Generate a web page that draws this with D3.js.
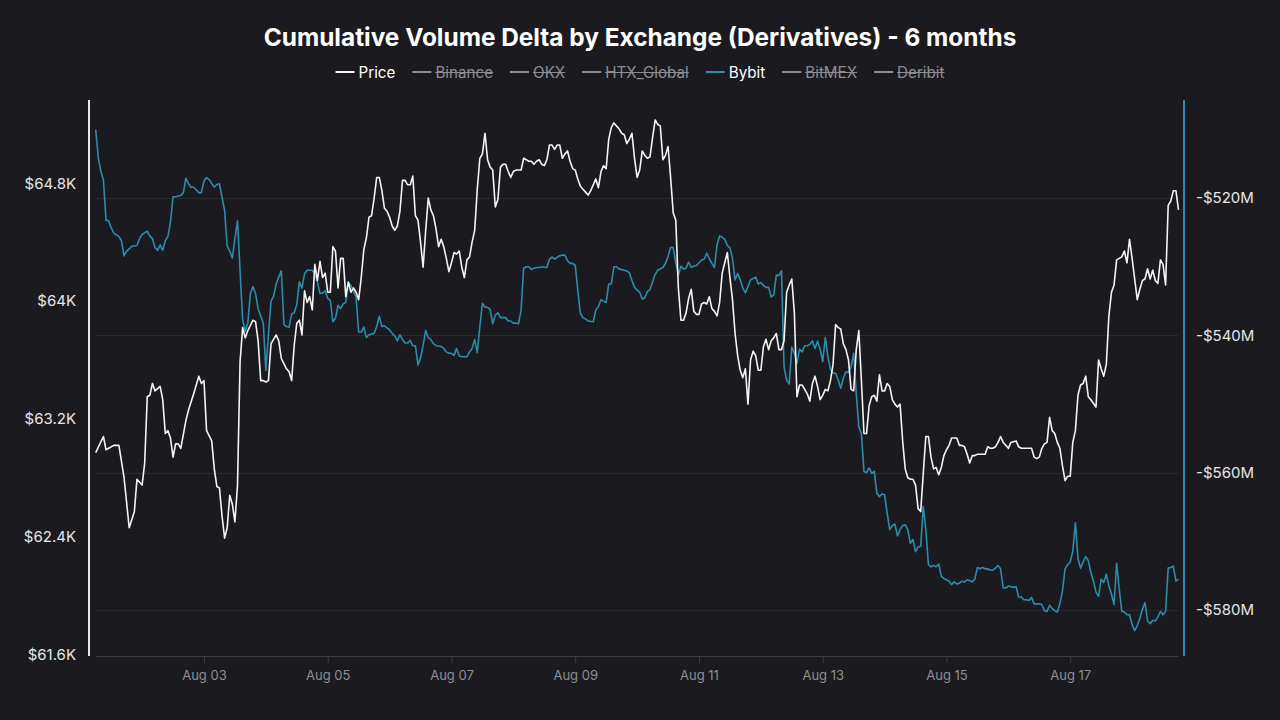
<!DOCTYPE html>
<html>
<head>
<meta charset="utf-8">
<script src="https://cdn.jsdelivr.net/npm/d3@7"></script>
<style>
	html, body { margin: 0; padding: 0; background: #1b1b1f; }
	#app { width: 1280px; height: 720px; }
	text { font-family: Inter, 'Noto Sans', sans-serif; }
</style>
</head>
<body>
<div id="app"></div>
<script>
// hours counted from 2024-08-01 06:00 UTC
const startTime = Date.UTC(2024, 7, 1, 6);

const title = 'Cumulative Volume Delta by Exchange (Derivatives) - 6 months';

const legendNames = ['Price', 'Binance', 'OKX', 'HTX_Global', 'Bybit', 'BitMEX', 'Deribit'];
const legendHidden = [false, true, true, true, false, true, true];

const dateTicks = ['2024-08-03', '2024-08-05', '2024-08-07', '2024-08-09', '2024-08-11', '2024-08-13', '2024-08-15', '2024-08-17'];
const priceTicks = [64800, 64000, 63200, 62400, 61600];
const cvdTicks = [-520, -540, -560, -580];
const priceExtent = [61589, 65366];
const cvdExtent = [-586.7, -505.7];

// [hour, USD]
const price = [[0,62970],[3,63080],[4,62990],[7,63020],[9,63020],[11,62800],[13,62460],[15,62570],[16,62790],[18,62750],[19,62900],[20,63350],[21,63360],[22,63440],[23,63390],[25,63420],[26,63330],[27,63100],[28,63120],[29,63070],[30,62940],[31,63030],[32,63030],[33,63000],[35,63190],[36,63260],[38,63370],[40,63490],[41,63440],[42,63460],[43,63120],[45,63050],[46,62860],[47,62740],[48,62730],[49,62540],[50,62390],[51,62460],[52,62680],[53,62620],[54,62500],[55,62750],[56,63590],[57,63820],[58,63750],[59,63800],[61,63870],[62,63860],[63,63730],[64,63460],[65,63460],[66,63450],[67,63460],[68,63710],[70,63770],[71,63730],[72,63610],[74,63540],[75,63520],[76,63460],[77,63700],[78,63850],[79,63870],
	[80,63770],[81,64070],[82,63990],[83,64030],[84,63940],[85,64250],[86,64140],[87,64270],[88,64160],[89,64190],[90,64060],[91,64060],[92,64370],[93,64340],[94,64090],[95,64290],[96,64290],[97,64030],[98,64130],[99,64060],[100,64090],[101,64060],[102,64010],[103,64160],[104,64350],[105,64430],[106,64570],[107,64580],[108,64700],[109,64840],[110,64840],[111,64750],[112,64630],[113,64610],[114,64570],[115,64510],[116,64480],[117,64510],[118,64610],[119,64820],[120,64820],[121,64790],[122,64790],[123,64850],[124,64580],[125,64550],[126,64400],[127,64230],[128,64480],[129,64700],[130,64620],[131,64580],[132,64490],[133,64370],[134,64420],[135,64370],[136,64290],[137,64200],[138,64260],[139,64330],[140,64320],[141,64340],[142,64230],[143,64160],[144,64280],[145,64300],[146,64400],[147,64480],[148,64760],[149,64970],[150,65000],[151,65140],[152,64960],[153,64910],[154,64890],[155,64640],[156,64690],[157,64910],[158,64930],[159,64930],[160,64880],[161,64840],[162,64880],[163,64890],[165,64890],[166,64970],[167,64960],[168,64950],[169,64950],[170,64930],[171,64950],[172,64960],[173,64930],[174,64920],[175,64960],[176,65060],[177,65060],[178,65030],[179,65060],[180,65060],[181,64970],[182,65000],[183,65020],[184,64950],[185,64900],[186,64890],[187,64830],[188,64780],[189,64760],[190,64740],[191,64720],[192,64750],[193,64790],[194,64830],[195,64770],[196,64880],[197,64920],[198,64900],[199,65100],[200,65180],
	[201,65210],[202,65190],[203,65170],[204,65140],[205,65130],[206,65070],[207,65100],[208,65140],[209,64970],[210,64840],[211,64890],[212,65020],[213,64990],[214,64970],[215,64980],[216,65110],[217,65230],[218,65200],[219,65190],[220,64960],[221,64990],[222,65050],[223,64840],[224,64600],[225,64550],[226,64090],[227,63870],[228,63870],[229,63920],[230,64020],[231,64080],[232,63930],[233,63910],[234,63910],[235,63980],[236,63990],[237,63980],[238,64030],[239,63950],[240,63930],[241,63900],[242,63990],[243,64190],[244,64260],[245,64330],[246,64160],[247,64010],[248,63780],[249,63630],[250,63530],[251,63480],[252,63540],[253,63300],[254,63600],[255,63660],[256,63630],[257,63530],[258,63530],[259,63690],[260,63740],[261,63670],[262,63730],[263,63750],[264,63780],[265,63670],[266,63670],[267,63730],[268,64060],[269,64110],[270,64150],[271,63920],[272,63350],[273,63430],[274,63430],[275,63400],[276,63370],[277,63320],[278,63440],[279,63490],[280,63420],[281,63330],[282,63360],[283,63400],[284,63390],[285,63460],[286,63570],[287,63840],[288,63820],[289,63810],[290,63710],[291,63670],[292,63600],[293,63400],[294,63390],[295,63670],[296,63800],[297,63460],[298,63100],[299,63100],[300,63290],
	[301,63350],[302,63360],[303,63320],[304,63500],[305,63390],[306,63390],[307,63440],[308,63420],[309,63330],[310,63300],[311,63280],[312,63300],[313,63050],[314,62860],[315,62800],[316,62790],[317,62790],[318,62750],[319,62590],[320,62570],[321,62830],[322,63080],[323,63080],[324,62940],[325,62860],[326,62870],[327,62820],[328,62870],[329,62950],[330,62990],[331,63020],[332,63070],[333,63070],[334,63070],[335,63020],[336,63020],[337,63010],[338,62960],[339,62900],[340,62950],[341,62950],[342,62960],[343,62960],[344,62960],[345,62960],[346,63010],[347,63000],[348,63000],[349,63010],[350,63040],[351,63080],[352,63040],[353,63020],[354,63000],[355,63040],[357,63050],[358,63010],[359,63000],[360,63000],[362,63000],[363,63000],[364,62940],[365,62930],[366,62940],[367,63000],[368,63030],[369,63040],[370,63210],[371,63120],[372,63100],[373,63040],[374,63000],[375,62880],[376,62780],[377,62810],[378,62810],[379,63040],[380,63120],[381,63360],[382,63430],[383,63440],[384,63490],[385,63350],[386,63330],[388,63280],[389,63600],[390,63540],[391,63490],[392,63570],[393,63900],[394,64060],[395,64110],[396,64280],[397,64290],[398,64300],[399,64340],[400,64260],[401,64420],[402,64290],[403,64150],[404,64010],[405,64080],[406,64140],[407,64150],[408,64220],[409,64150],[410,64210],[411,64140],[412,64120],[413,64280],[414,64250],[415,64110],[416,64650],[417,64680],[418,64750],[419,64750],[420,64620]];

// [hour, USD millions]
const bybit = [[0,-510.0],[1,-514.1],[2,-516.1],[3,-517.4],[4,-523.2],[5,-523.3],[6,-524.3],[7,-525.1],[9,-525.6],[10,-526.2],[11,-528.4],[12,-527.7],[13,-527.4],[14,-527.0],[16,-526.9],[17,-525.9],[18,-525.3],[20,-524.8],[21,-525.5],[22,-525.9],[23,-527.2],[24,-527.6],[25,-526.8],[26,-527.6],[27,-526.2],[28,-525.6],[29,-523.5],[30,-519.8],[31,-519.8],[33,-519.6],[34,-519.2],[35,-517.1],[36,-517.9],[37,-518.4],[38,-518.4],[40,-519.2],[41,-519.2],[42,-517.5],[43,-517.0],[44,-517.3],[46,-518.4],[47,-518.0],[48,-517.9],[50,-521.8],[51,-527.0],[52,-527.7],[53,-528.7],[54,-525.9],[55,-523.3],[56,-530.6],[57,-537.7],[58,-539.4],[59,-538.2],[60,-533.9],[61,-532.9],[62,-533.9],[63,-536.1],[64,-537.2],[65,-538.2],[66,-545.1],[67,-539.9],[68,-535.0],[69,-534.3],[70,-532.5],[71,-531.5],[72,-530.6],[73,-538.4],[74,-538.7],[75,-538.8],[76,-536.9],[77,-536.7],[78,-535.5],[79,-532.2],
	[80,-533.1],[81,-531.0],[82,-530.5],[84,-530.5],[85,-531.0],[86,-532.2],[87,-533.9],[88,-533.8],[89,-533.5],[90,-534.6],[91,-534.9],[92,-538.0],[93,-537.5],[94,-535.6],[95,-536.1],[96,-535.4],[97,-535.2],[98,-532.4],[99,-532.7],[100,-533.6],[101,-534.4],[102,-539.5],[103,-539.5],[104,-538.8],[105,-540.3],[106,-539.9],[107,-539.8],[108,-539.7],[109,-538.7],[110,-537.2],[111,-538.7],[112,-538.6],[113,-538.9],[114,-539.2],[115,-539.7],[116,-540.1],[117,-540.8],[118,-539.9],[119,-540.6],[120,-541.1],[121,-541.1],[122,-540.7],[123,-541.5],[124,-541.5],[125,-544.3],[126,-543.3],[127,-541.4],[128,-539.3],[129,-540.3],[130,-540.6],[131,-541.2],[132,-541.5],[134,-541.6],[135,-541.9],[136,-542.4],[137,-542.6],[138,-542.6],[139,-542.9],[140,-541.9],[141,-543.0],[142,-543.1],[144,-543.1],[145,-542.4],[146,-541.9],[147,-540.6],[148,-542.5],[149,-538.7],[150,-535.3],[151,-535.9],[152,-535.9],[153,-536.2],[154,-538.3],[155,-537.0],[156,-536.7],[157,-537.4],[158,-537.4],[159,-537.4],[160,-537.9],[161,-537.9],[162,-538.2],[163,-538.2],[164,-538.3],[165,-536.3],[166,-530.2],[167,-530.0],[168,-530.0],[169,-530.4],[170,-530.2],[171,-530.1],[172,-530.1],[173,-530.0],[175,-530.1],[176,-528.9],[177,-528.6],[178,-528.9],[179,-528.6],[180,-528.4],[181,-528.3],[182,-528.3],[183,-529.1],[184,-529.5],[185,-529.5],[186,-529.8],[187,-533.4],[188,-536.8],[189,-537.4],[190,-537.6],[191,-537.9],[193,-538.0],[194,-536.3],[195,-535.8],[196,-534.8],[197,-535.0],[198,-535.2],[199,-532.5],[200,-532.5],
	[201,-530.0],[202,-530.0],[203,-530.3],[205,-530.5],[206,-530.6],[207,-530.9],[208,-532.0],[209,-533.0],[210,-533.4],[211,-533.7],[212,-534.7],[213,-534.5],[214,-533.6],[215,-533.3],[216,-532.2],[217,-531.1],[218,-530.5],[220,-530.1],[221,-529.5],[222,-528.5],[223,-527.2],[224,-527.2],[225,-529.4],[226,-531.2],[227,-529.9],[228,-530.3],[229,-530.2],[230,-529.3],[231,-530.1],[232,-529.9],[233,-529.8],[234,-529.4],[235,-529.0],[236,-528.9],[237,-528.0],[238,-528.8],[239,-529.5],[240,-530.1],[241,-526.8],[242,-525.5],[243,-525.7],[244,-526.0],[245,-526.9],[246,-527.2],[247,-528.8],[248,-531.9],[249,-531.0],[250,-531.9],[251,-533.1],[252,-533.8],[253,-532.9],[254,-531.9],[255,-531.7],[256,-531.5],[257,-532.5],[258,-532.3],[259,-532.7],[260,-533.0],[261,-533.0],[262,-534.4],[263,-534.1],[264,-531.2],[265,-531.3],[266,-530.6],[267,-544.6],[268,-546.5],[269,-547.1],[270,-541.7],[271,-542.6],[272,-544.1],[273,-542.0],[274,-542.4],[275,-541.5],[276,-541.5],[277,-541.3],[278,-540.8],[279,-541.9],[280,-540.8],[281,-542.0],[282,-543.8],[283,-540.3],[284,-543.1],[285,-544.9],[286,-545.5],[287,-545.5],[288,-546.5],[289,-547.7],[290,-546.2],[291,-545.3],[292,-545.4],[293,-544.6],[294,-542.6],[295,-548.4],[296,-553.3],[297,-554.3],[298,-559.8],[299,-560.0],[300,-559.3],
	[301,-560.1],[302,-559.8],[303,-563.0],[304,-563.5],[305,-563.1],[306,-563.2],[307,-565.9],[308,-568.3],[309,-567.7],[310,-567.5],[311,-569.2],[312,-568.3],[313,-567.7],[314,-567.6],[315,-568.3],[316,-570.3],[317,-569.7],[318,-571.5],[319,-570.8],[320,-570.7],[321,-564.9],[322,-568.3],[323,-573.4],[324,-573.7],[325,-573.5],[326,-573.7],[327,-573.3],[328,-575.1],[329,-575.4],[330,-575.6],[331,-575.8],[332,-576.3],[333,-575.9],[334,-576.2],[335,-576.1],[336,-575.8],[337,-575.9],[338,-575.6],[339,-575.7],[340,-575.9],[341,-575.5],[342,-573.8],[343,-574.0],[344,-573.8],[345,-574.0],[346,-574.0],[347,-574.2],[348,-574.2],[349,-573.9],[350,-573.5],[351,-574.0],[352,-576.8],[353,-576.8],[354,-576.5],[356,-576.7],[357,-576.6],[358,-578.1],[359,-578.1],[360,-578.5],[361,-578.5],[362,-578.6],[363,-578.2],[364,-579.1],[366,-579.1],[367,-579.2],[368,-580.1],[369,-580.2],[370,-579.3],[371,-579.8],[372,-580.1],[373,-580.3],[374,-579.1],[375,-577.2],[376,-574.0],[377,-573.4],[378,-573.0],[379,-571.4],[380,-567.3],[381,-572.5],[382,-573.9],[383,-573.0],[384,-572.2],[385,-572.8],[386,-574.5],[387,-575.8],[388,-577.4],[389,-578.0],[390,-575.5],[391,-576.0],[392,-574.8],[393,-576.5],[394,-577.7],[395,-579.2],[396,-573.2],[397,-576.9],[398,-580.2],[399,-580.3],[400,-580.7],[401,-580.7],[402,-582.1],[403,-583.0],[404,-582.3],[405,-581.2],[406,-579.9],[407,-578.9],[408,-581.6],[409,-582.0],[410,-581.5],[411,-581.6],[412,-581.0],[413,-580.2],[414,-580.7],[415,-580.2],[416,-573.9],[417,-573.8],[418,-573.6],[419,-575.8],[420,-575.5]];

const colors = {
	bg: '#1b1b1f',
	price: '#f4f4f4',
	bybit: '#2b8cab',
	grid: '#2a2a2f',
	axis: '#3c3c42',
	muted: '#8d8d93',
	text: '#e6e6e8'
};

function chart () {

	let app = d3.select('#app'),
		width = 1280,
		height = 720,
		margin = { top: 100, right: 102, bottom: 64, left: 95.7 },
		plotRight = 1178.5,
		plotBottom = height - margin.bottom,
		svg;

	svg = app.append('svg')
		.attr('width', width)
		.attr('height', height)
		.style('background', colors.bg);

	const toDate = h => new Date(startTime + h * 3600e3);

	let x = d3.scaleUtc()
		.domain([toDate(0), toDate(420)])
		.range([margin.left, plotRight]);

	let yPrice = d3.scaleLinear()
		.domain(priceExtent)
		.range([plotBottom, margin.top]);

	let yCvd = d3.scaleLinear()
		.domain(cvdExtent)
		.range([plotBottom, margin.top]);

	// title
	svg.append('text')
		.attr('x', width / 2)
		.attr('y', 45.5)
		.attr('text-anchor', 'middle')
		.attr('fill', '#ffffff')
		.attr('font-size', 24.4)
		.attr('font-weight', 700)
		.text(title);

	// legend
	let legend = svg.append('g'),
		cursor = 0;

	legendNames.forEach(function (name, i) {
		let hidden = legendHidden[i],
			lineColor = hidden ? colors.muted : (name === 'Bybit' ? colors.bybit : colors.price),
			item = legend.append('g').attr('transform', `translate(${ cursor }, 0)`);

		item.append('line')
			.attr('x1', 0).attr('x2', 19)
			.attr('y1', 0).attr('y2', 0)
			.attr('stroke', lineColor)
			.attr('stroke-width', 2);

		let label = item.append('text')
			.attr('x', 23)
			.attr('y', 5.5)
			.attr('font-size', 15.2)
			.attr('fill', hidden ? colors.muted : '#ffffff')
			.text(name);

		let w = label.node().getComputedTextLength();

		if (hidden) {
			item.append('line')
				.attr('x1', 23).attr('x2', 23 + w)
				.attr('y1', 0.5).attr('y2', 0.5)
				.attr('stroke', colors.muted)
				.attr('stroke-width', 1.2);
		}
		cursor += 23 + w + 17;
	});

	let legendWidth = cursor - 17;
	legend.attr('transform', `translate(${ width / 2 - legendWidth / 2 }, 72)`);

	// grid from the right axis ticks
	svg.append('g')
		.selectAll('line')
		.data(cvdTicks)
		.enter().append('line')
			.attr('x1', margin.left)
			.attr('x2', plotRight)
			.attr('y1', d => Math.round(yCvd(d)) + 0.5)
			.attr('y2', d => Math.round(yCvd(d)) + 0.5)
			.attr('stroke', colors.grid);

	// x axis
	let xAxis = svg.append('g')
		.attr('transform', `translate(0, ${ plotBottom })`)
		.call(d3.axisBottom(x)
			.tickValues(dateTicks.map(d => new Date(d + 'T00:00:00Z')))
			.tickFormat(d3.utcFormat('%b %d'))
			.tickSize(7)
			.tickPadding(8));

	xAxis.select('.domain')
		.attr('d', `M${ margin.left },0.5H${ plotRight }`)
		.attr('stroke', colors.axis);
	xAxis.selectAll('.tick line').attr('stroke', colors.axis);
	xAxis.selectAll('.tick text')
		.attr('fill', colors.muted)
		.attr('font-size', 13)
		.attr('font-family', 'Inter, sans-serif');

	// left axis
	svg.append('line')
		.attr('x1', 89).attr('x2', 89)
		.attr('y1', margin.top).attr('y2', plotBottom)
		.attr('stroke', '#e8e8e8')
		.attr('stroke-width', 2);

	svg.append('g')
		.selectAll('text')
		.data(priceTicks)
		.enter().append('text')
			.attr('x', 76)
			.attr('y', d => yPrice(d))
			.attr('dy', '0.35em')
			.attr('text-anchor', 'end')
			.attr('font-size', 15)
			.attr('fill', colors.text)
			.text(d => '$' + d3.format('~')(d / 1000) + 'K');

	// right axis
	svg.append('line')
		.attr('x1', 1184).attr('x2', 1184)
		.attr('y1', margin.top).attr('y2', plotBottom)
		.attr('stroke', colors.bybit)
		.attr('stroke-width', 2);

	svg.append('g')
		.selectAll('text')
		.data(cvdTicks)
		.enter().append('text')
			.attr('x', 1196)
			.attr('y', d => yCvd(d))
			.attr('dy', '0.35em')
			.attr('font-size', 15)
			.attr('fill', colors.text)
			.text(d => (d < 0 ? '-' : '') + '$' + Math.abs(d) + 'M');

	// series
	svg.append('path')
		.datum(bybit)
		.attr('fill', 'none')
		.attr('stroke', colors.bybit)
		.attr('stroke-width', 1.6)
		.attr('stroke-linejoin', 'round')
		.attr('d', d3.line()
			.x(d => x(toDate(d[0])))
			.y(d => yCvd(d[1])));

	svg.append('path')
		.datum(price)
		.attr('fill', 'none')
		.attr('stroke', colors.price)
		.attr('stroke-width', 1.6)
		.attr('stroke-linejoin', 'round')
		.attr('d', d3.line()
			.x(d => x(toDate(d[0])))
			.y(d => yPrice(d[1])));
}

chart();
</script>
</body>
</html>
